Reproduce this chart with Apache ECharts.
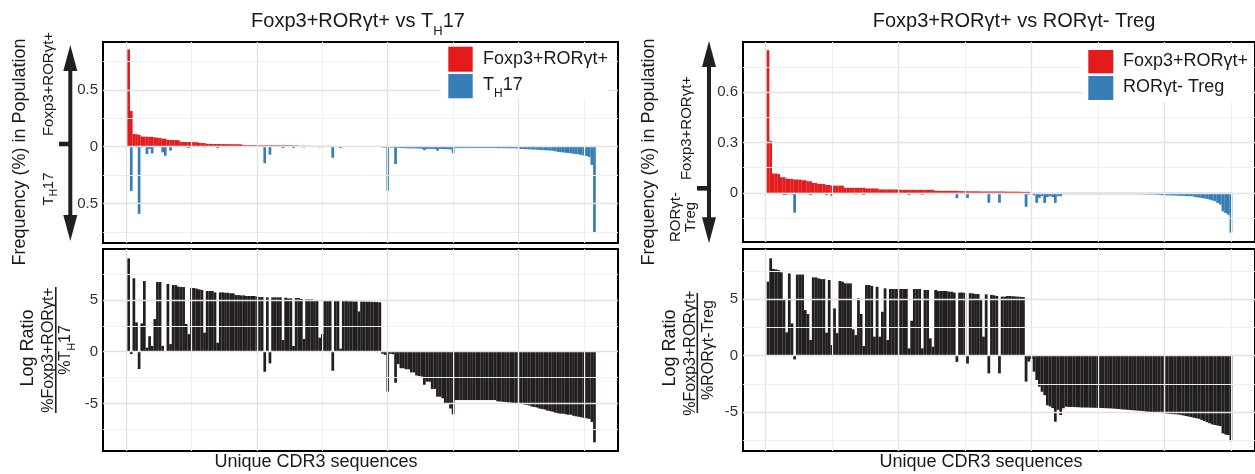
<!DOCTYPE html>
<html><head><meta charset="utf-8">
<script src="https://cdn.jsdelivr.net/npm/echarts@6/dist/echarts.min.js"></script>
<style>html,body{margin:0;padding:0;background:#fff}#c{width:1255px;height:474px}</style>
</head><body><div id="c"></div>
<script>
// ---------------- DATA ----------------
// Left chart: Foxp3+RORγt+ vs TH17 (179 unique CDR3 sequences)
const redLeft = [
0.855,0.315,0.112,0.11,0.105,0.09,0.088,0.088,0.087,0.086,
0.082,0.08,0.076,0.072,0.07,0.06,0.059,0.059,0.058,0.057,
0.042,0.042,0.041,0.041,0.041,0.04,0.04,0.035,0.033,0.032,
0.025,0.025,0.024,0.024,0.024,0.023,0.023,0.023,0.023,0.022,
0.022,0.022,0.022,0.021,0.014,0.013,0.013,0.013,0.013,0.013,
0.012,0.012,0.012,0.012,0.012,0.012,0.012,0.012,0.012,0.012,
0.012,0.012,0.011,0.011,0.011,0.008,0.008,0.008,0.008,0.008,
0.007,0.007,0.007,0.007,0.007,0.007,0.007,0.007,0.007,0.007,
0.006,0.006,0.006,0.006,0.006,0.006,0.006,0.006,0.006,0.006,
0.005,0.005,0.005,0.005,0.005,0.004,0.004,0.004,0.004,0.004,
0.004,0.004,0.004,0.004,0.004,0,0,0,0,0,
0,0,0,0,0,0,0,0,0,0,
0,0,0,0,0,0,0,0,0,0,
0,0,0,0,0,0,0,0,0,0,
0,0,0,0,0,0,0,0,0,0,
0,0,0,0,0,0,0,0,0,0,
0,0,0,0,0,0,0,0,0,0,
0,0,0,0,0,0,0,0,0];
const th17Left = [
0,0.39,0,0.006,0.59,0.006,0,0.065,0.02,0.058,
0.004,0,0,0.05,0.08,0,0.035,0,0,0,
0,0,0.004,0.012,0,0,0,0,0,0.006,
0,0,0,0,0.012,0,0,0,0,0,
0,0,0,0,0,0,0,0,0,0,
0,0,0.145,0,0.07,0,0,0,0,0.012,
0,0,0,0.012,0,0,0,0.006,0,0,
0,0,0,0.005,0.004,0,0,0,0.097,0,
0,0.012,0,0,0,0,0,0,0.002,0,
0,0,0,0,0,0,0,0.006,0.008,0.387,
0.006,0.007,0.152,0.01,0.012,0.012,0.014,0.014,0.015,0.015,
0.016,0.016,0.018,0.03,0.02,0.018,0.02,0.02,0.035,0.02,
0.02,0.022,0.022,0.025,0.058,0.012,0.012,0.012,0.012,0.012,
0.012,0.012,0.012,0.012,0.012,0.012,0.012,0.012,0.012,0.012,
0.012,0.013,0.013,0.013,0.013,0.014,0.014,0.014,0.015,0.015,
0.02,0.021,0.022,0.023,0.024,0.025,0.026,0.028,0.03,0.031,
0.032,0.034,0.035,0.04,0.045,0.048,0.05,0.053,0.056,0.058,
0.062,0.065,0.068,0.072,0.078,0.082,0.09,0.16,0.76];
const ratioLeft = [
9.03,-0.23,7.1,2.84,-1.68,2.74,6.84,0.39,1.5,0.55,
3.16,6.74,6.74,0.55,0.06,6.55,0.74,6.45,6.45,6.3,
6.26,6.26,2.68,1.7,6.16,6.16,6.1,6.03,5.97,1.84,
5.87,5.87,5.87,5.74,0.87,5.74,5.74,5.7,5.7,5.65,
5.65,5.48,5.48,5.45,5.45,5.39,5.39,5.39,5.39,5.35,
5.29,5.29,-1.94,5.26,-1.13,5.26,5.26,5.26,5.26,1.13,
5.23,5.16,5.16,0.55,5.19,5.19,5.1,1.23,5.06,5.06,
5.06,5.0,5.0,1.35,1.7,4.9,4.9,4.9,-1.84,4.9,
4.9,0.3,4.9,4.9,4.88,4.88,4.86,4.86,3.9,4.85,
4.85,4.84,4.84,4.82,4.82,4.8,4.78,-0.2,-0.3,-3.87,
-0.2,-0.25,-3.0,-1.2,-1.6,-1.6,-1.7,-1.7,-2.0,-2.0,
-2.3,-2.35,-2.4,-3.2,-2.9,-2.9,-3.6,-3.6,-4.35,-4.35,
-4.5,-5.0,-5.0,-5.5,-6.06,-4.68,-4.68,-4.68,-4.68,-4.68,
-4.68,-4.68,-4.68,-4.68,-4.68,-4.68,-4.68,-4.68,-4.68,-4.68,
-4.68,-4.8,-4.82,-4.85,-4.87,-4.9,-4.92,-4.95,-4.97,-5.0,
-5.05,-5.1,-5.15,-5.2,-5.3,-5.35,-5.4,-5.5,-5.55,-5.6,
-5.7,-5.75,-5.8,-5.9,-5.95,-6.0,-6.0,-6.05,-6.1,-6.1,
-6.2,-6.25,-6.3,-6.35,-6.4,-6.45,-6.5,-6.8,-8.77];

// Right chart: Foxp3+RORγt+ vs RORγt- Treg (175 unique CDR3 sequences)
const redRight = [
0.85,0.31,0.115,0.115,0.112,0.093,0.093,0.085,0.083,0.083,
0.079,0.079,0.079,0.075,0.075,0.069,0.069,0.059,0.059,0.053,
0.053,0.053,0.047,0.047,0.043,0.043,0.043,0.043,0.043,0.03,
0.03,0.03,0.03,0.03,0.03,0.03,0.03,0.026,0.026,0.026,
0.026,0.026,0.02,0.02,0.02,0.02,0.02,0.02,0.02,0.02,
0.018,0.018,0.018,0.018,0.018,0.018,0.018,0.018,0.018,0.018,
0.018,0.018,0.018,0.012,0.012,0.012,0.012,0.012,0.012,0.012,
0.012,0.012,0.01,0.01,0.01,0.01,0.009,0.009,0.009,0.009,
0.008,0.008,0.008,0.008,0.008,0.008,0.008,0.008,0.008,0.008,
0.007,0.007,0.007,0.007,0.007,0.006,0.006,0.006,0.006,0,
0,0,0,0,0,0,0,0,0,0,
0,0,0,0,0,0,0,0,0,0,
0,0,0,0,0,0,0,0,0,0,
0,0,0,0,0,0,0,0,0,0,
0,0,0,0,0,0,0,0,0,0,
0,0,0,0,0,0,0,0,0,0,
0,0,0,0,0,0,0,0,0,0,
0,0,0,0,0];
const tregRight = [
0.002,0,0,0,0,0,0.014,0.011,0,0.01,
0.118,0,0,0,0.002,0.002,0.014,0,0,0,
0,0,0.014,0,0.02,0.001,0.006,0,0,0,
0,0,0.004,0.01,0,0.001,0.013,0,0,0,
0.008,0,0.008,0.001,0,0.006,0,0,0,0,
0,0,0,0.014,0.001,0,0,0,0.012,0,
0,0.004,0.008,0,0,0,0,0,0,0,
0,0.032,0,0,0,0.03,0,0,0,0,
0.001,0.004,0,0.059,0,0,0,0.059,0,0,
0,0,0,0,0,0,0,0.083,0.01,0.008,
0.015,0.06,0.03,0.02,0.06,0.025,0.02,0.025,0.06,0.02,
0.02,0.008,0.008,0.008,0.008,0.008,0.008,0.008,0.008,0.008,
0.008,0.008,0.008,0.008,0.008,0.008,0.008,0.008,0.008,0.008,
0.008,0.008,0.008,0.008,0.008,0.008,0.008,0.008,0.008,0.008,
0.009,0.009,0.009,0.01,0.01,0.01,0.011,0.012,0.014,0.014,
0.015,0.015,0.016,0.016,0.017,0.018,0.018,0.019,0.02,0.02,
0.022,0.026,0.028,0.03,0.033,0.036,0.04,0.045,0.05,0.06,
0.07,0.11,0.12,0.13,0.237];
const ratioRight = [
6.57,8.64,7.7,7.66,7.6,7.4,4.94,2.07,7.3,2.87,
-0.33,7.2,7.2,7.2,4.05,3.7,1.4,6.95,6.95,6.86,
6.8,6.8,2.04,6.72,0.95,4.2,2.0,6.63,6.57,6.42,
6.42,6.42,2.34,1.83,5.09,3.7,0.86,6.27,6.27,6.2,
1.69,6.12,1.69,3.9,5.98,1.39,5.92,5.92,5.92,5.92,
5.92,5.92,5.92,0.65,3.1,5.92,5.92,5.92,0.65,5.83,
5.83,1.54,0.8,5.83,5.74,5.74,5.74,5.74,5.68,5.68,
5.6,-0.55,5.6,5.6,5.58,-0.7,5.55,5.53,5.47,5.47,
4.94,1.69,5.45,-1.57,5.4,5.36,5.3,-1.57,5.24,5.24,
5.3,5.3,5.28,5.26,5.24,5.22,5.2,-2.3,-0.53,-0.3,
-1.42,-2.16,-2.75,-3.2,-3.5,-4.4,-4.5,-4.65,-5.86,-4.8,
-5.27,-4.67,-4.53,-4.55,-4.55,-4.56,-4.57,-4.58,-4.6,-4.6,
-4.6,-4.61,-4.62,-4.62,-4.63,-4.64,-4.65,-4.66,-4.67,-4.68,
-4.7,-4.72,-4.74,-4.76,-4.78,-4.8,-4.82,-4.84,-4.86,-4.88,
-4.9,-4.92,-4.95,-4.98,-5.0,-5.03,-5.06,-5.08,-5.1,-5.12,
-5.14,-5.16,-5.18,-5.2,-5.22,-5.25,-5.3,-5.35,-5.4,-5.45,
-5.5,-5.55,-5.6,-5.7,-5.8,-5.9,-6.0,-6.1,-6.15,-6.2,
-6.25,-6.9,-7.0,-7.04,-7.6];

const freqTicksLeft = [-0.5, 0, 0.5];
const freqTicksRight = [0, 0.3, 0.6];
const ratioTicks = [-5, 0, 5];

// ---------------- STYLE / LAYOUT ----------------
const FONT = '"Liberation Sans", Arial, Helvetica, sans-serif';
const RED = '#e41a1c', BLUE = '#377eb8', BLACK = '#231f20';
const chart = echarts.init(document.getElementById('c'), null, {renderer: 'canvas'});

const grids = [
  {left: 103, top: 42, width: 515, height: 201},
  {left: 103, top: 249, width: 515, height: 202},
  {left: 743, top: 42, width: 515, height: 200},
  {left: 743, top: 249, width: 515, height: 202}
].map(g => Object.assign(g, {show: true, borderColor: '#000', borderWidth: 2, backgroundColor: '#fff', containLabel: false}));

const xRange = [[-8.8, 188], [-8.8, 188], [-8.4, 184.05], [-8.4, 184.05]];
const yRange = [[-0.847, 0.921], [-9.61, 9.94], [-0.293, 0.899], [-8.46, 9.47]];
const yTicks = [freqTicksLeft, ratioTicks, freqTicksRight, ratioTicks];

const xAxis = xRange.map((r, k) => ({type: 'value', gridIndex: k, min: r[0], max: r[1], show: false}));
const yAxis = yRange.map((r, k) => ({
  type: 'value', gridIndex: k, min: r[0], max: r[1],
  axisLine: {show: false}, splitLine: {show: false},
  axisTick: {show: true, length: 3, lineStyle: {color: '#333', width: 1}, customValues: yTicks[k]},
  axisLabel: {customValues: yTicks[k], margin: 5, fontSize: 15, fontFamily: FONT, color: '#333',
    formatter: v => k === 0 ? String(Math.abs(v)) : String(v)}
}));

const MAJ = {color: '#e2e2e2', width: 1.3, type: 'solid'};
const MIN = {color: '#efefef', width: 1, type: 'solid'};
function gridLines(k, xMaj, xMin, yMaj, yMin) {
  const d = [];
  xMin.forEach(v => d.push({xAxis: v, lineStyle: MIN}));
  yMin.forEach(v => d.push({yAxis: v, lineStyle: MIN}));
  xMaj.forEach(v => d.push({xAxis: v, lineStyle: MAJ}));
  yMaj.forEach(v => d.push({yAxis: v, lineStyle: MAJ}));
  return {type: 'line', xAxisIndex: k, yAxisIndex: k, data: [], z: 0, silent: true,
    markLine: {silent: true, symbol: ['none', 'none'], label: {show: false}, animation: false, data: d}};
}
const xMaj = [0, 50, 100, 150], xMin = [25, 75, 125, 175];

const BW_L = 2.7, BW_R = 2.76;
const series = [
  gridLines(0, xMaj, xMin, [-0.5, 0, 0.5], [-0.75, -0.25, 0.25, 0.75]),
  gridLines(1, xMaj, xMin, [-5, 0, 5], [-7.5, -2.5, 2.5, 7.5]),
  gridLines(2, xMaj, xMin, [0, 0.3, 0.6], [-0.15, 0.15, 0.45, 0.75]),
  gridLines(3, xMaj, xMin, [-5, 0, 5], [-7.5, -2.5, 2.5, 7.5]),
  {type: 'bar', name: 'Foxp3+RORγt+', xAxisIndex: 0, yAxisIndex: 0, z: 2, barWidth: BW_L, barGap: '-100%',
    itemStyle: {color: RED}, data: redLeft.map((v, i) => [i + 1, v])},
  {type: 'bar', name: 'TH17', xAxisIndex: 0, yAxisIndex: 0, z: 2, barWidth: BW_L, barGap: '-100%',
    itemStyle: {color: BLUE}, data: th17Left.map((v, i) => [i + 1, -v])},
  {type: 'bar', name: 'ratioL', xAxisIndex: 1, yAxisIndex: 1, z: 2, barWidth: BW_L,
    itemStyle: {color: BLACK}, data: ratioLeft.map((v, i) => [i + 1, v])},
  {type: 'bar', name: 'Foxp3+RORγt+ ', xAxisIndex: 2, yAxisIndex: 2, z: 2, barWidth: BW_R, barGap: '-100%',
    itemStyle: {color: RED}, data: redRight.map((v, i) => [i + 1, v])},
  {type: 'bar', name: 'RORγt- Treg', xAxisIndex: 2, yAxisIndex: 2, z: 2, barWidth: BW_R, barGap: '-100%',
    itemStyle: {color: BLUE}, data: tregRight.map((v, i) => [i + 1, -v])},
  {type: 'bar', name: 'ratioR', xAxisIndex: 3, yAxisIndex: 3, z: 2, barWidth: BW_R,
    itemStyle: {color: BLACK}, data: ratioRight.map((v, i) => [i + 1, v])}
];

function txt(x, y, text, size, o) {
  o = o || {};
  return {type: 'text', x: x, y: y, rotation: o.rot || 0, z: 100, silent: true,
    style: {text: text, fontSize: size, fontFamily: FONT, fill: o.color || '#1a1a1a',
      align: o.align || 'center', verticalAlign: 'middle', rich: o.rich}};
}
function sub(size, pad) {
  return {sub: {fontSize: size, fontFamily: FONT, lineHeight: size, fill: '#1a1a1a', padding: [pad, 0, 0, 0], verticalAlign: 'top'}};
}
const R90 = Math.PI / 2;
function arrow(x, top, bot, headLen, headHalf, tickY, tickX0) {
  return [
    {type: 'rect', z: 90, silent: true, shape: {x: x - 2, y: top + headLen - 2, width: 4, height: (bot - top) - 2 * headLen + 4}, style: {fill: BLACK}},
    {type: 'polygon', z: 90, silent: true, shape: {points: [[x, top], [x - headHalf, top + headLen], [x + headHalf, top + headLen]]}, style: {fill: BLACK}},
    {type: 'polygon', z: 90, silent: true, shape: {points: [[x, bot], [x - headHalf, bot - headLen], [x + headHalf, bot - headLen]]}, style: {fill: BLACK}},
    {type: 'rect', z: 90, silent: true, shape: {x: tickX0, y: tickY - 2.3, width: x - tickX0, height: 4.6}, style: {fill: BLACK}}
  ];
}
const graphic = [
  // titles
  txt(358, 21, 'Foxp3+RORγt+ vs T{sub|H}17', 20, {rich: sub(13, 14)}),
  txt(1014, 21, 'Foxp3+RORγt+ vs RORγt- Treg', 20),
  // x titles
  txt(316, 462, 'Unique CDR3 sequences', 18),
  txt(981, 462, 'Unique CDR3 sequences', 18),
  // left y titles
  txt(20, 152, 'Frequency (%) in Population', 18, {rot: R90}),
  txt(49, 84, 'Foxp3+RORγt+', 15, {rot: R90}),
  txt(49, 189, 'T{sub|H}17', 15, {rot: R90, rich: sub(10, 8)}),
  ...arrow(70.3, 45, 241, 26, 7, 144, 59),
  txt(28, 348, 'Log Ratio', 18, {rot: R90}),
  txt(49, 350, '%Foxp3+RORγt+', 16, {rot: R90}),
  {type: 'rect', z: 90, silent: true, shape: {x: 55, y: 287, width: 1.6, height: 126}, style: {fill: BLACK}},
  txt(66, 350, '%T{sub|H}17', 16, {rot: R90, rich: sub(11, 8)}),
  // right y titles
  txt(649, 152, 'Frequency (%) in Population', 18, {rot: R90}),
  txt(687, 128, 'Foxp3+RORγt+', 15, {rot: R90}),
  txt(683, 217, 'RORγt-\nTreg', 15, {rot: R90}),
  ...arrow(709, 41, 243.3, 26, 7, 188.3, 697),
  txt(670, 348, 'Log Ratio', 18, {rot: R90}),
  txt(691, 353, '%Foxp3+RORγt+', 16, {rot: R90}),
  {type: 'rect', z: 90, silent: true, shape: {x: 696.5, y: 293, width: 1.6, height: 120}, style: {fill: BLACK}},
  txt(709, 350, '%RORγt-Treg', 16, {rot: R90}),
  // legends
  {type: 'rect', z: 80, silent: true, shape: {x: 441, y: 43, width: 167, height: 56}, style: {fill: '#fff'}},
  {type: 'rect', z: 81, silent: true, shape: {x: 448.3, y: 46.7, width: 24.4, height: 25}, style: {fill: RED}},
  {type: 'rect', z: 81, silent: true, shape: {x: 448.3, y: 74, width: 24.4, height: 24.3}, style: {fill: BLUE}},
  txt(483, 59, 'Foxp3+RORγt+', 18, {align: 'left'}),
  txt(483, 85, 'T{sub|H}17', 18, {align: 'left', rich: sub(12, 12)}),
  {type: 'rect', z: 80, silent: true, shape: {x: 1083, y: 45, width: 168, height: 57}, style: {fill: '#fff'}},
  {type: 'rect', z: 81, silent: true, shape: {x: 1088.3, y: 50, width: 25, height: 23.3}, style: {fill: RED}},
  {type: 'rect', z: 81, silent: true, shape: {x: 1088.3, y: 76, width: 25, height: 24}, style: {fill: BLUE}},
  txt(1123, 61.5, 'Foxp3+RORγt+', 18, {align: 'left'}),
  txt(1123, 87.5, 'RORγt- Treg', 18, {align: 'left'})
];

chart.setOption({
  animation: false,
  backgroundColor: '#fff',
  grid: grids,
  xAxis: xAxis,
  yAxis: yAxis,
  series: series,
  graphic: graphic
});
</script>
</body></html>
